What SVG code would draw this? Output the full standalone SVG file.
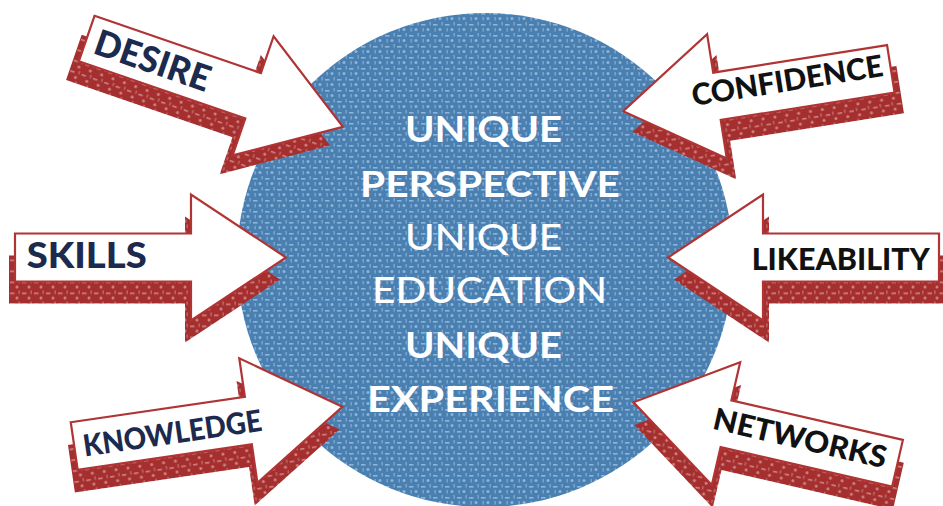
<svg xmlns="http://www.w3.org/2000/svg" xmlns:xlink="http://www.w3.org/1999/xlink" width="943" height="506" viewBox="0 0 943 506">
<style>
.white{fill:#ffffff;stroke:#b03434;stroke-width:2.2;stroke-linejoin:miter}
.shadow{fill:url(#redtex)}
.lbl{font-family:Lato,"Open Sans","Liberation Sans",sans-serif;font-weight:900}
.navy{fill:#1c2a4d}
.black{fill:#111111}
.ctr{font-family:Lato,"Open Sans","Liberation Sans",sans-serif;fill:#ffffff;font-size:37px}
.b{font-weight:700}
.r{font-weight:500}
</style>
<defs>
<pattern id="bluetex" width="12" height="11" patternUnits="userSpaceOnUse">
<rect width="12" height="11" fill="#4a80b1"/>
<rect x="1" y="2" width="4.5" height="1.6" fill="#8fb4d6"/>
<circle cx="8" cy="7.5" r="1.5" fill="#8fb4d6"/>
<rect x="9.5" y="0" width="1.3" height="3.5" fill="#82aad0"/>
<rect x="2.5" y="6" width="1.3" height="3.5" fill="#82aad0"/>
</pattern>
<pattern id="redtex" width="12" height="11" patternUnits="userSpaceOnUse">
<rect width="12" height="11" fill="#a52e2e"/>
<rect x="1" y="2" width="4.5" height="1.6" fill="#cf8585"/>
<circle cx="8" cy="7.5" r="1.5" fill="#cf8585"/>
<rect x="9.5" y="0" width="1.3" height="3.5" fill="#c27171"/>
</pattern>
<path id="arrow" d="M0,-24 H176 V-63 L271,0 L176,63 V24 H0 Z"/>
</defs>

<g id="center">
<ellipse cx="485" cy="260" rx="248" ry="247" fill="url(#bluetex)"/>
<text class="ctr b" x="405" y="141.7" textLength="157" lengthAdjust="spacingAndGlyphs">UNIQUE</text>
<text class="ctr b" x="360" y="196.7" textLength="260" lengthAdjust="spacingAndGlyphs">PERSPECTIVE</text>
<text class="ctr r" x="405" y="250" textLength="157" lengthAdjust="spacingAndGlyphs">UNIQUE</text>
<text class="ctr r" x="372" y="303.3" textLength="235" lengthAdjust="spacingAndGlyphs">EDUCATION</text>
<text class="ctr b" x="405" y="358.3" textLength="157" lengthAdjust="spacingAndGlyphs">UNIQUE</text>
<text class="ctr b" x="367" y="411.7" textLength="247" lengthAdjust="spacingAndGlyphs">EXPERIENCE</text>
</g>

<g id="desire" transform="translate(86.7,38.5) rotate(19)">
<use xlink:href="#arrow" class="shadow" transform="translate(-6,22)"/>
<use xlink:href="#arrow" class="white"/>
<text class="lbl navy" x="9.5" y="12" font-size="36" textLength="120" lengthAdjust="spacingAndGlyphs">DESIRE</text>
</g>

<g id="skills" transform="translate(15,257.5)">
<use xlink:href="#arrow" class="shadow" transform="translate(-6,22)"/>
<use xlink:href="#arrow" class="white"/>
<text class="lbl navy" x="11.7" y="10.8" font-size="36" textLength="120" lengthAdjust="spacingAndGlyphs">SKILLS</text>
</g>

<g id="knowledge" transform="translate(74.2,446) rotate(-8.3)">
<use xlink:href="#arrow" class="shadow" transform="translate(-6,22)"/>
<use xlink:href="#arrow" class="white"/>
<text class="lbl navy" x="9" y="12" font-size="30" textLength="180" lengthAdjust="spacingAndGlyphs">KNOWLEDGE</text>
</g>

<g id="confidence" transform="translate(890.8,68.8) rotate(-9)">
<g transform="scale(-1,1)">
<use xlink:href="#arrow" class="shadow" transform="translate(-6,22)"/>
<use xlink:href="#arrow" class="white"/>
</g>
<text class="lbl black" x="-200.7" y="6" font-size="30" textLength="193" lengthAdjust="spacingAndGlyphs">CONFIDENCE</text>
</g>

<g id="likeability" transform="translate(939,257.5)">
<g transform="scale(-1,1)">
<use xlink:href="#arrow" class="shadow" transform="translate(-6,22)"/>
<use xlink:href="#arrow" class="white"/>
</g>
<text class="lbl black" x="-187.3" y="12.5" font-size="31" textLength="178" lengthAdjust="spacingAndGlyphs">LIKEABILITY</text>
</g>

<g id="networks" transform="translate(897.5,463.3) rotate(13)">
<g transform="scale(-1,1)">
<use xlink:href="#arrow" class="shadow" transform="translate(-6,22)"/>
<use xlink:href="#arrow" class="white"/>
</g>
<text class="lbl black" x="-189" y="8" font-size="30" textLength="177" lengthAdjust="spacingAndGlyphs">NETWORKS</text>
</g>
</svg>
